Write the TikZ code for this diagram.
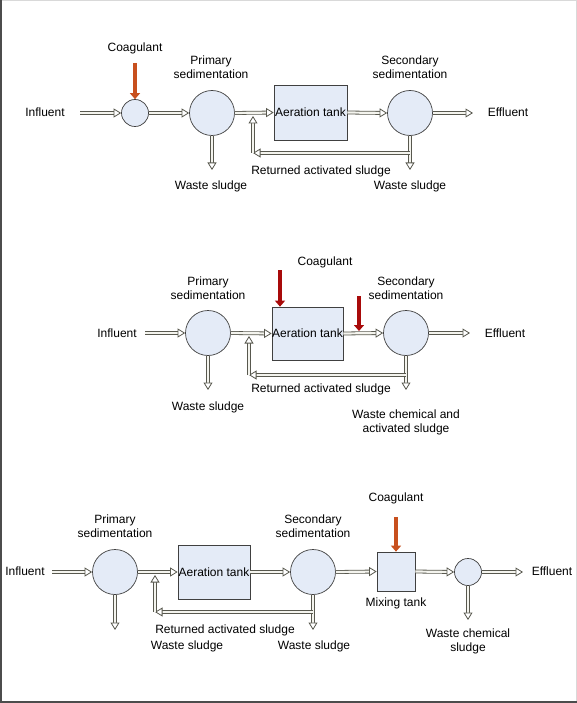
\documentclass[tikz,border=0pt]{standalone}
\usepackage{fontspec}
\setmainfont{Liberation Sans}
\usetikzlibrary{arrows.meta}
\definecolor{tankfill}{HTML}{E4EBF7}
\definecolor{pipeedge}{HTML}{58584E}
\definecolor{pipein}{HTML}{F4F4EE}
\definecolor{orangec}{HTML}{C8501E}
\definecolor{redc}{HTML}{A80A0A}
\begin{document}
\begin{tikzpicture}[x=1pt,y=-1pt,
  lbl/.style={font=\fontsize{12}{14}\selectfont, align=center, inner sep=0pt},
  circ/.style={circle, draw=black!75, fill=tankfill, line width=0.7pt, inner sep=0pt},
  bigc/.style={circ, minimum size=45pt},
  smallc/.style={circ, minimum size=27pt},
  tank/.style={rectangle, draw=black!75, fill=tankfill, line width=0.7pt, inner sep=0pt,
     font=\fontsize{12}{14}\selectfont},
  pipe/.style={draw=pipeedge, line width=0.8pt, double=pipein, double distance=2.2pt,
     -{Triangle[open, length=7.5pt, width=9pt, line width=0.8pt, fill=white]}},
  coag/.style={line width=3.6pt, -{Triangle[length=6pt, width=10pt]}}
]
\useasboundingbox (0,0) rectangle (577,703);
\fill[white] (0,0) rectangle (577,703);
\draw[black!15, line width=1pt] (0,0.5) -- (576.5,0.5) -- (576.5,703);
\draw[black!70, line width=2pt] (1,0) -- (1,702) -- (577,702);

% ---------------- Panel 1 ----------------
\node[lbl] (inf1) at (45,112) {Influent};
\coordinate (i1) at (80,113);
\node[smallc] (c1) at (135,113) {};
\node[lbl] (coag1) at (135,48) {Coagulant};
\coordinate (k1) at (135,63);
\node[bigc] (p1) at (212,113) {};
\node[lbl] (p1t) at (211,67) {Primary\\sedimentation};
\node[tank, minimum width=73pt, minimum height=55pt] (a1) at (310.5,112.5) {Aeration tank};
\node[bigc] (s1) at (410,113) {};
\node[lbl] (s1t) at (410,67) {Secondary\\sedimentation};
\node[lbl] (e1) at (508,112) {Effluent};
\coordinate (o1) at (473,113);
\coordinate (w1a) at (212,170);
\coordinate (w1b) at (410,170);
\coordinate (r1) at (253,153);
\coordinate (r1top) at (253,116);
\node[lbl] (ws1a) at (211,186) {Waste sludge};
\node[lbl] (ws1b) at (410,186) {Waste sludge};
\node[lbl] (ras1) at (321,171) {Returned activated sludge};

\draw[pipe] (i1) -- (c1.west);
\draw[pipe] (c1.east) -- (p1.west);
\draw[pipe] (p1.east) -- (a1.west);
\draw[pipe] (a1.east) -- (s1.west);
\draw[pipe] (s1.east) -- (o1);
\draw[pipe] (p1.south) -- (w1a);
\draw[pipe] (s1.south) -- (w1b);
\draw[pipe] (s1.south |- r1) -- (r1);
\draw[pipe] (r1) -- (r1top);
\draw[coag, draw=orangec, fill=orangec] (k1) -- (c1.north);

% ---------------- Panel 2 ----------------
\node[lbl] (inf2) at (117,333) {Influent};
\coordinate (i2) at (145,333);
\node[bigc] (p2) at (208,333) {};
\node[lbl] (p2t) at (208,288) {Primary\\sedimentation};
\node[tank, minimum width=71pt, minimum height=53pt] (a2) at (307.5,333.5) {Aeration tank};
\node[lbl] (coag2) at (325,262) {Coagulant};
\coordinate (k2a) at (280,270);
\coordinate (k2b) at (359,296);
\coordinate (k2bend) at (359,331);
\node[bigc] (s2) at (406,333) {};
\node[lbl] (s2t) at (406,288) {Secondary\\sedimentation};
\node[lbl] (e2) at (505,333) {Effluent};
\coordinate (o2) at (470,333);
\coordinate (w2a) at (208,390);
\coordinate (w2b) at (406,390);
\coordinate (r2) at (249,375);
\coordinate (r2top) at (249,336);
\node[lbl] (ws2a) at (208,407) {Waste sludge};
\node[lbl] (ras2) at (321,389) {Returned activated sludge};
\node[lbl] (wc2) at (406,422) {Waste chemical and\\activated sludge};

\draw[pipe] (i2) -- (p2.west);
\draw[pipe] (p2.east) -- (a2.west);
\draw[pipe] (a2.east) -- (s2.west);
\draw[pipe] (s2.east) -- (o2);
\draw[pipe] (p2.south) -- (w2a);
\draw[pipe] (s2.south) -- (w2b);
\draw[pipe] (s2.south |- r2) -- (r2);
\draw[pipe] (r2) -- (r2top);
\draw[coag, draw=redc, fill=redc] (k2a) -- (k2a |- a2.north);
\draw[coag, draw=redc, fill=redc] (k2b) -- (k2bend);

% ---------------- Panel 3 ----------------
\node[lbl] (inf3) at (25,571) {Influent};
\coordinate (i3) at (52,572);
\node[bigc] (p3) at (115,572) {};
\node[lbl] (p3t) at (115,526) {Primary\\sedimentation};
\node[tank, minimum width=72pt, minimum height=54pt] (a3) at (214,572) {Aeration tank};
\node[bigc] (s3) at (313,572) {};
\node[lbl] (s3t) at (313,526) {Secondary\\sedimentation};
\node[tank, minimum width=38pt, minimum height=39pt] (m3) at (396,571.5) {};
\node[lbl] (coag3) at (396,498) {Coagulant};
\coordinate (k3) at (396,517);
\node[lbl] (mt3) at (396,603) {Mixing tank};
\node[smallc] (c3) at (468,572) {};
\node[lbl] (e3) at (552,571) {Effluent};
\coordinate (o3) at (523,572);
\coordinate (w3a) at (115,630);
\coordinate (w3b) at (313,630);
\coordinate (w3c) at (468,620);
\coordinate (r3) at (155,612);
\coordinate (r3top) at (155,575);
\node[lbl] (ras3) at (225,630) {Returned activated sludge};
\node[lbl] (ws3a) at (187,646) {Waste sludge};
\node[lbl] (ws3b) at (314,646) {Waste sludge};
\node[lbl] (wc3) at (468,641) {Waste chemical\\sludge};

\draw[pipe] (i3) -- (p3.west);
\draw[pipe] (p3.east) -- (a3.west);
\draw[pipe] (a3.east) -- (s3.west);
\draw[pipe] (s3.east) -- (m3.west);
\draw[pipe] (m3.east) -- (c3.west);
\draw[pipe] (c3.east) -- (o3);
\draw[pipe] (p3.south) -- (w3a);
\draw[pipe] (s3.south) -- (w3b);
\draw[pipe] (c3.south) -- (w3c);
\draw[pipe] (s3.south |- r3) -- (r3);
\draw[pipe] (r3) -- (r3top);
\draw[coag, draw=orangec, fill=orangec] (k3) -- (m3.north);
\end{tikzpicture}
\end{document}
